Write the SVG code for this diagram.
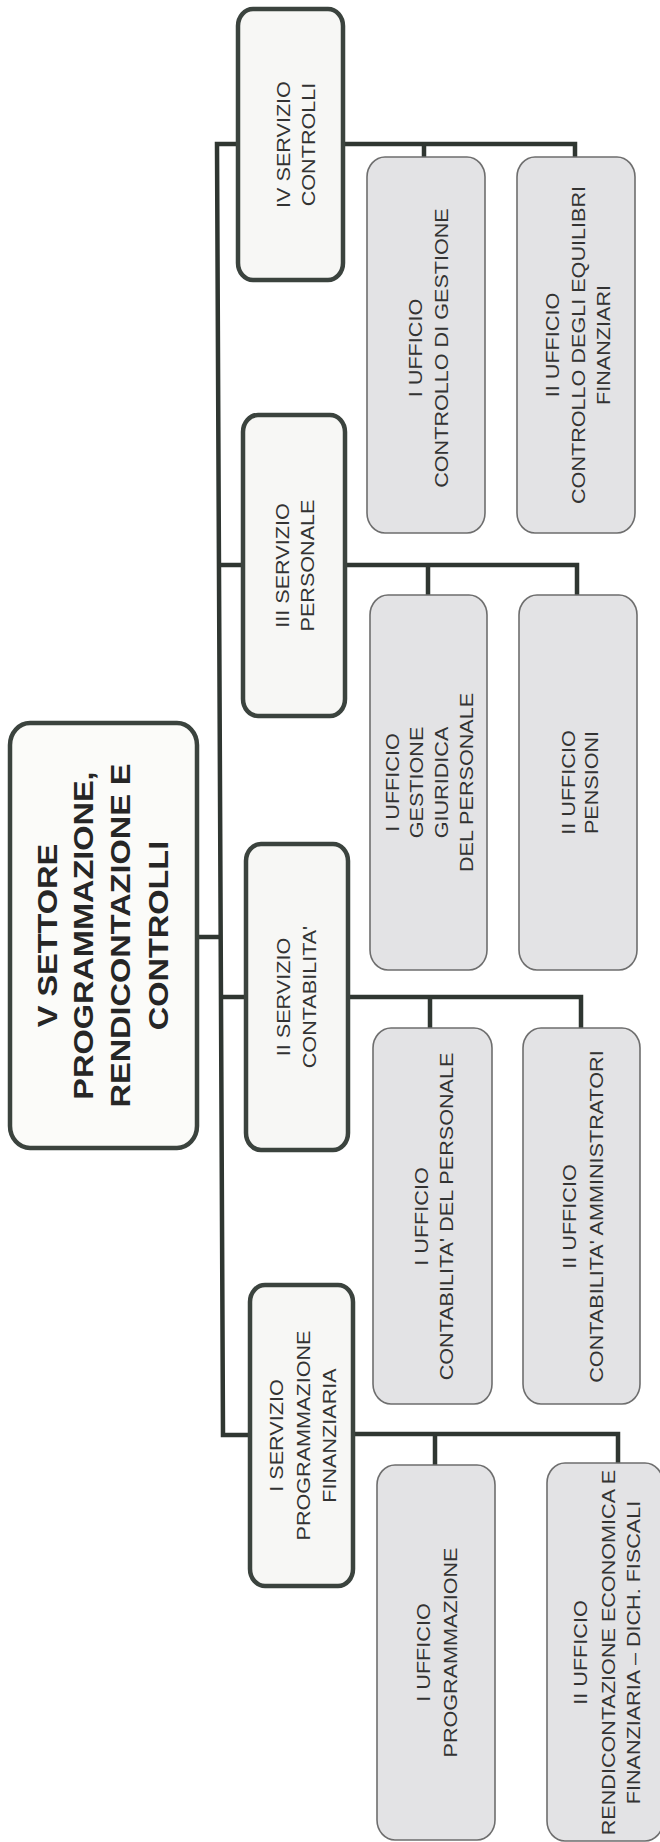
<svg xmlns="http://www.w3.org/2000/svg" width="660" height="1842" viewBox="0 0 660 1842">
<style>
  .main rect { fill: #fbfbf9; stroke: #3b433e; stroke-width: 4.5; }
  .svc rect { fill: #f7f7f5; stroke: #3b433e; stroke-width: 4.5; }
  .uff rect { fill: #e3e3e5; stroke: #6e6e6e; stroke-width: 1.6; }
  .conn path { fill: none; stroke: #2f3631; stroke-width: 4.5; stroke-linejoin: miter; }
  text { font-family: "Liberation Sans", Arial, sans-serif; fill: #333333; text-anchor: middle; }
  .main text { font-size: 28px; font-weight: bold; fill: #262626; }
  .svc text { font-size: 18px; }
  .uff text { font-size: 18px; }
</style>
<rect width="660" height="1842" fill="#ffffff"/>

<g id="connectors" class="conn">
  <path d="M238,144 H217 L223,1435 H250"/>
  <path d="M197,937 H221"/>
  <path d="M219,565 H243"/>
  <path d="M221,997 H246"/>
  <path d="M343,144 H575 V157 M424,144 V157"/>
  <path d="M345,565 H577 V595 M428,565 V595"/>
  <path d="M348,997 H581 V1028 M430,997 V1028"/>
  <path d="M353,1434 H618 V1465 M435,1434 V1465"/>
</g>

<g id="n-main" class="main">
  <rect x="10" y="723" width="187" height="425" rx="20" ry="22"/>
  <g transform="translate(103,935.5) rotate(-90) scale(1.16,1)">
    <text x="0" y="-46">V SETTORE</text>
    <text x="0" y="-10">PROGRAMMAZIONE,</text>
    <text x="0" y="27">RENDICONTAZIONE E</text>
    <text x="0" y="65">CONTROLLI</text>
  </g>
</g>

<g id="n-serv4" class="svc">
  <rect x="238" y="9" width="105" height="271" rx="15" ry="17"/>
  <g transform="translate(290.5,144.5) rotate(-90) scale(1.2,1)">
    <text x="0" y="-0.5">IV SERVIZIO</text>
    <text x="0" y="24.5">CONTROLLI</text>
  </g>
</g>

<g id="n-serv3" class="svc">
  <rect x="243" y="415" width="102" height="301" rx="15" ry="17"/>
  <g transform="translate(294,565.5) rotate(-90) scale(1.2,1)">
    <text x="0" y="-5">III SERVIZIO</text>
    <text x="0" y="20">PERSONALE</text>
  </g>
</g>

<g id="n-serv2" class="svc">
  <rect x="246" y="844" width="102" height="306" rx="15" ry="17"/>
  <g transform="translate(297,997) rotate(-90) scale(1.2,1)">
    <text x="0" y="-7">II SERVIZIO</text>
    <text x="0" y="19">CONTABILITA'</text>
  </g>
</g>

<g id="n-serv1" class="svc">
  <rect x="250" y="1285" width="103" height="301" rx="15" ry="17"/>
  <g transform="translate(301.5,1435.5) rotate(-90) scale(1.2,1)">
    <text x="0" y="-18.5">I SERVIZIO</text>
    <text x="0" y="8.5">PROGRAMMAZIONE</text>
    <text x="0" y="34.5">FINANZIARIA</text>
  </g>
</g>

<g id="n-uff4a" class="uff">
  <rect x="367" y="157" width="118" height="376" rx="18" ry="20"/>
  <g transform="translate(426,348) rotate(-90) scale(1.2,1)">
    <text x="0" y="-4">I UFFICIO</text>
    <text x="0" y="22">CONTROLLO DI GESTIONE</text>
  </g>
</g>

<g id="n-uff4b" class="uff">
  <rect x="517" y="157" width="118" height="376" rx="18" ry="20"/>
  <g transform="translate(576,345) rotate(-90) scale(1.2,1)">
    <text x="0" y="-17">II UFFICIO</text>
    <text x="0" y="9">CONTROLLO DEGLI EQUILIBRI</text>
    <text x="0" y="34">FINANZIARI</text>
  </g>
</g>

<g id="n-uff3a" class="uff">
  <rect x="370" y="595" width="117" height="375" rx="18" ry="20"/>
  <g transform="translate(428.5,782.5) rotate(-90) scale(1.2,1)">
    <text x="0" y="-29.5">I UFFICIO</text>
    <text x="0" y="-5.5">GESTIONE</text>
    <text x="0" y="19.5">GIURIDICA</text>
    <text x="0" y="44.5">DEL PERSONALE</text>
  </g>
</g>

<g id="n-uff3b" class="uff">
  <rect x="519" y="595" width="118" height="375" rx="18" ry="20"/>
  <g transform="translate(578,782.5) rotate(-90) scale(1.2,1)">
    <text x="0" y="-3">II UFFICIO</text>
    <text x="0" y="20">PENSIONI</text>
  </g>
</g>

<g id="n-uff2a" class="uff">
  <rect x="373" y="1028" width="119" height="376" rx="18" ry="20"/>
  <g transform="translate(432.5,1216.5) rotate(-90) scale(1.2,1)">
    <text x="0" y="-4.5">I UFFICIO</text>
    <text x="0" y="20.5">CONTABILITA' DEL PERSONALE</text>
  </g>
</g>

<g id="n-uff2b" class="uff">
  <rect x="523" y="1028" width="117" height="376" rx="18" ry="20"/>
  <g transform="translate(581.5,1216.5) rotate(-90) scale(1.2,1)">
    <text x="0" y="-5.5">II UFFICIO</text>
    <text x="0" y="21.5">CONTABILITA' AMMINISTRATORI</text>
  </g>
</g>

<g id="n-uff1a" class="uff">
  <rect x="377" y="1465" width="118" height="375" rx="18" ry="20"/>
  <g transform="translate(436,1652.5) rotate(-90) scale(1.2,1)">
    <text x="0" y="-6">I UFFICIO</text>
    <text x="0" y="21">PROGRAMMAZIONE</text>
  </g>
</g>

<g id="n-uff1b" class="uff">
  <rect x="547" y="1463" width="116" height="378" rx="18" ry="20"/>
  <g transform="translate(605,1652.5) rotate(-90) scale(1.2,1)">
    <text x="0" y="-18">II UFFICIO</text>
    <text x="0" y="10">RENDICONTAZIONE ECONOMICA E</text>
    <text x="0" y="35">FINANZIARIA – DICH. FISCALI</text>
  </g>
</g>
</svg>
